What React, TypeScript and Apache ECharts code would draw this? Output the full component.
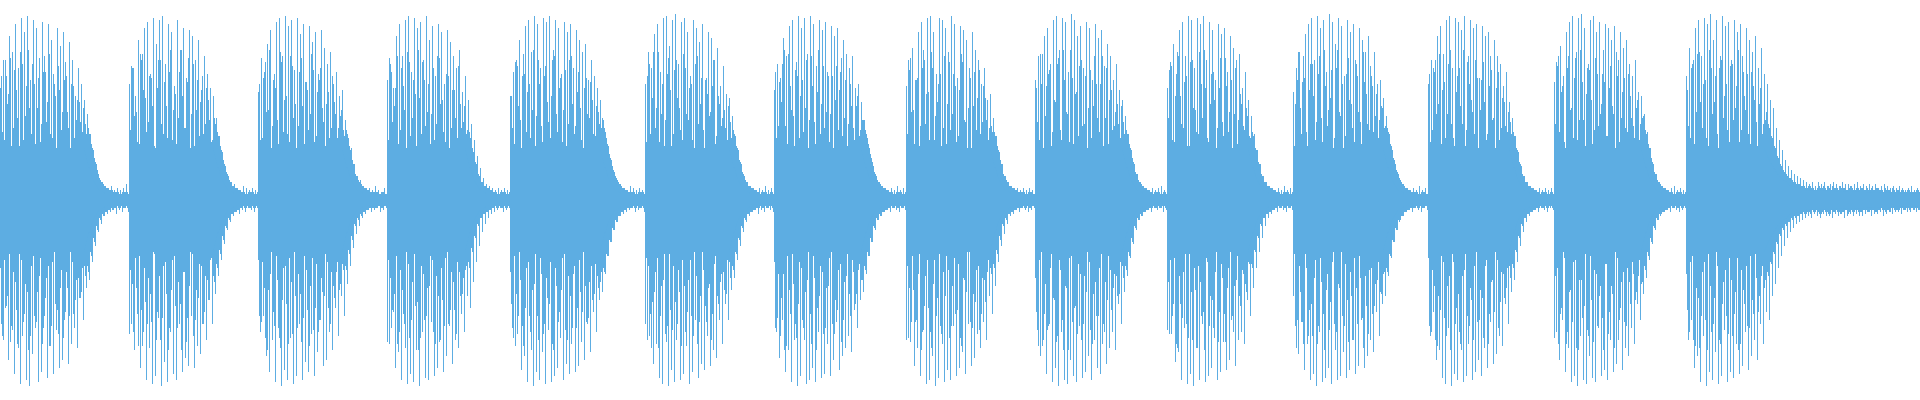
import React, { useEffect, useRef } from "react";
import * as echarts from "echarts";

// Peak amplitudes per slot (units: % of full scale), upper (T) and lower (B) halves, one pair per note burst
const b1T = [56,70,62,82,74,88,66,91,84,92,60,90,86,71,89,64,88,80,58,86,77,84,62,79,70,52,66,58,50,43,33,25,18,11,9,7,6,7,5,6,5,6,8];
const b1B = [68,54,80,63,87,72,92,61,90,93,77,64,91,86,58,89,73,87,65,84,80,56,82,72,64,74,49,60,44,40,31,23,16,12,8,7,6,5,7,5,6,4,6];
const b2T = [58,66,52,80,70,86,89,63,91,78,90,92,68,88,84,57,90,75,86,61,85,82,70,80,55,72,63,56,52,41,32,24,17,12,9,8,6,5,7,6,5,6,5];
const b2B = [62,75,57,84,66,90,74,92,88,59,93,81,91,66,87,90,62,86,79,83,58,84,73,77,62,70,50,62,47,38,30,22,15,11,8,6,7,5,6,4,5,6,4];
const b3T = [54,71,64,78,85,60,89,91,72,92,87,90,65,91,83,88,59,87,79,84,63,85,76,68,74,58,64,52,55,40,31,26,18,12,10,7,6,6,5,7,5,4,6];
const b3B = [66,58,78,86,70,91,64,93,85,90,69,92,88,62,90,81,86,67,88,76,60,83,80,66,75,54,68,48,58,42,33,24,17,13,9,7,5,6,5,4,6,5,4];
const b4T = [60,68,56,82,88,72,90,92,64,91,86,89,70,92,80,87,62,88,84,58,85,79,72,66,75,54,62,50,38,30,22,16,11,8,7,6,5,6,5,6,5];
const b4B = [72,55,84,76,90,62,92,87,91,75,93,66,89,90,61,88,84,70,86,78,63,82,70,74,57,66,48,54,41,31,23,16,12,9,7,6,5,4,6,5,4];
const b5T = [52,64,70,80,62,87,90,74,92,88,66,91,89,92,70,90,86,63,89,84,88,66,85,80,74,78,60,70,62,56,50,40,31,23,17,12,9,7,6,5,7,6,5,6,5];
const b5B = [64,73,58,85,78,91,66,93,86,90,76,92,65,91,88,84,69,90,82,87,64,86,83,71,80,62,76,56,66,50,46,37,28,21,15,11,8,7,6,5,4,6,5,4,6];
const b6T = [58,74,66,83,88,64,91,92,77,90,93,68,89,91,84,62,90,86,79,88,60,84,81,70,76,57,67,53,51,42,32,25,18,12,9,7,6,5,6,5,7,5,6];
const b6B = [70,57,82,72,89,92,67,93,85,91,62,90,87,73,92,86,60,89,82,85,68,83,75,79,60,72,52,60,45,39,30,23,16,11,8,6,5,7,5,6,4,5,6];
const b7T = [55,68,61,81,72,87,90,65,92,86,91,73,92,88,67,90,85,89,62,87,82,86,64,80,73,66,72,56,58,49,40,31,23,17,12,9,7,6,5,6,5,7,5,6];
const b7B = [66,79,60,86,75,91,70,93,88,64,92,90,84,91,66,89,87,72,88,80,61,85,78,74,68,76,55,64,50,46,37,28,21,15,10,8,6,5,6,4,5,6,4,5];
const b8T = [57,65,76,60,84,89,70,91,92,84,63,91,90,86,74,92,88,61,87,85,80,66,84,75,70,58,66,50,53,41,32,24,18,12,9,7,6,6,5,6,5,6,5];
const b8B = [69,61,83,74,88,65,92,90,78,93,89,67,91,85,90,63,88,84,76,87,62,83,79,67,74,61,70,48,57,43,31,23,17,12,8,7,5,6,4,5,6,5,4];
const b9T = [60,72,58,82,86,68,90,92,75,91,89,64,93,90,82,87,66,89,86,60,88,81,85,67,78,72,60,68,55,50,42,33,25,18,13,9,7,6,5,6,5,6,7,5];
const b9B = [65,78,70,87,62,91,84,93,66,90,92,80,88,91,63,89,86,78,90,70,84,87,62,82,74,66,75,52,62,46,38,29,22,15,10,8,6,5,6,4,5,4,6,5];
const b10T = [56,69,78,63,85,89,72,92,90,66,91,88,92,70,89,85,60,88,83,86,64,82,76,70,73,56,64,50,42,33,25,18,12,9,7,6,5,6,5,7,5,6];
const b10B = [67,58,81,76,90,64,92,87,93,74,90,62,91,88,84,69,90,86,71,85,80,58,83,70,66,72,50,58,44,34,26,19,13,9,7,5,6,4,5,6,4,5];
const b11T = [54,66,74,59,83,88,91,70,92,86,90,64,93,89,78,91,87,62,90,84,88,68,86,80,74,82,62,74,58,60,51,42,33,25,18,13,9,7,6,5,6,5,7,5,6];
const b11B = [63,77,61,85,72,90,87,93,66,91,89,84,92,62,90,88,76,89,85,70,87,83,60,84,78,70,76,56,68,52,48,38,29,21,15,10,8,6,5,6,4,5,6,4,5];
const b12T = [58,70,64,82,87,73,90,92,66,91,89,85,92,69,90,86,88,61,87,82,84,65,80,72,68,57,64,49,41,32,24,17,12,9,7,6,5,6,5,6,5,6];
const b12B = [68,56,80,75,89,92,64,93,87,90,72,91,88,63,90,86,80,88,74,84,61,82,77,68,73,52,62,46,40,31,23,16,11,8,6,5,6,4,5,6,4,5];
const b13T = [59,67,77,62,84,89,92,71,91,93,86,66,90,92,84,89,63,88,86,80,87,62,84,76,80,68,62,70,54,52,43,34,26,18,13,9,7,6,5,6,7,5,6,5];
const b13B = [66,80,60,86,74,91,88,93,68,90,92,78,89,91,64,88,85,90,70,86,82,60,85,74,78,64,72,52,60,47,39,30,22,15,10,7,6,5,6,4,5,6,5,4];
const b14T = [62,76,68,86,90,72,91,88,93,80,90,66,92,87,89,70,90,84,88,64,86,80,74,82,66,76,63,
  58,50,46,36,30,25,20,17,15,13,12,11,10,
  9,8,9,7,9,8,9,7,8,9,8,7,9,8,8,7,8,9,7,8,7,8,7,8,6,7,8,7,6,7,6,7,6,5,6,7,5,6];
const b14B = [70,60,84,78,91,68,93,86,90,76,92,88,65,91,86,89,72,87,83,66,85,78,70,80,62,72,56,
  60,48,42,34,28,23,19,16,14,12,11,10,9,
  8,9,7,8,9,7,8,8,9,7,8,7,9,8,7,8,7,8,8,7,6,8,7,7,6,8,7,6,7,6,6,7,5,6,6,5,6,5];

// Shorter oscillations (symmetric), middle column of each slot
const b1I = [62,30,48,71,36,55,27,68,42,75,33,58,46,29,64,39,73,31,52,67,35,60,44,26,57,40,49,34,38,36,28,21,15,10,8,6,5,5,4,4,3,4,4];
const b2I = [35,66,44,28,73,51,39,61,27,56,70,33,47,64,30,53,41,75,36,59,26,68,45,32,62,38,50,29,41,34,27,20,14,10,7,6,5,4,4,3,4,4,3];
const b3I = [58,31,69,45,26,63,40,74,34,52,29,67,48,37,71,28,55,43,65,32,60,46,27,54,36,49,31,42,35,35,27,20,13,10,8,6,5,4,4,4,3,4,3];
const b4I = [30,64,47,72,35,57,26,69,41,53,75,33,60,44,28,66,38,71,50,29,62,36,55,31,48,39,33,34,26,19,13,9,7,6,5,4,4,3,4,4,3];
const b5I = [52,28,67,40,73,34,58,45,27,70,37,62,49,31,75,43,56,29,65,38,72,33,54,46,26,61,41,50,32,44,36,36,28,21,15,11,8,6,5,4,4,4,3,4,4];
const b6I = [29,68,51,36,74,43,27,63,55,33,70,46,30,66,40,58,26,72,48,35,61,42,57,28,52,37,45,30,39,35,27,20,14,10,7,6,5,4,3,4,4,3,4];
const b7I = [64,37,49,75,28,57,42,69,31,60,46,26,72,39,54,33,67,44,29,62,50,35,71,41,27,58,36,47,32,40,35,28,21,14,10,8,6,5,4,4,3,4,4,3];
const b8I = [33,71,45,60,27,66,38,54,74,30,49,63,36,28,69,43,57,32,73,40,26,61,47,35,65,39,51,30,37,34,27,20,13,10,7,6,5,4,4,4,3,4,3];
const b9I = [56,30,73,42,63,27,50,68,35,75,44,29,61,53,32,70,38,26,65,47,58,34,72,41,28,55,37,48,31,39,35,28,21,14,10,8,6,5,4,3,4,4,3,4];
const b10I = [41,67,29,74,52,36,62,27,70,45,33,58,75,31,48,64,26,56,39,71,34,60,43,28,53,37,46,32,34,26,19,13,9,7,6,5,4,4,3,4,4,3];
const b11I = [27,60,46,72,34,55,68,30,63,41,75,37,51,26,66,44,58,32,71,48,29,62,39,74,53,35,57,42,31,47,36,36,28,21,15,11,8,6,5,4,4,4,3,4,3];
const b12I = [63,35,70,48,28,59,43,75,31,54,66,38,27,72,50,33,61,45,69,30,57,40,26,64,36,49,34,39,34,26,19,13,9,7,6,5,4,3,4,4,3,4];
const b13I = [38,72,54,29,66,45,31,74,40,59,27,68,50,35,63,43,75,32,56,47,26,70,41,61,34,52,37,46,30,41,35,28,21,14,10,8,6,5,4,4,3,4,4,3];
const b14I = [55,31,70,44,74,36,60,27,66,49,33,72,41,58,29,68,46,75,35,52,63,28,57,39,48,33,40,
  38,32,27,22,18,15,13,11,10,9,8,7,7,
  6,7,6,5,7,6,6,7,5,6,6,7,6,5,6,6,5,6,6,5,6,5,5,6,5,5,6,5,4,5,5,4,5,4,5,4,4,5];

// Second set of short oscillations, on the opposite side of the peak columns
const b1J = [34,70,53,27,65,41,74,30,57,46,68,28,61,38,72,49,33,63,26,55,44,69,36,58,31,50,39,46,33,33,26,19,13,9,7,6,5,4,4,3,4,4,3];
const b2J = [67,42,29,73,55,34,62,47,26,70,38,59,31,75,45,28,64,52,36,71,43,27,60,49,33,56,40,30,38,32,25,18,13,9,7,6,5,4,3,4,4,3,4];
const b3J = [30,61,44,75,37,56,28,69,50,33,72,41,26,64,47,59,35,73,29,54,66,39,48,31,62,43,36,45,32,33,25,18,12,9,7,6,5,4,4,4,3,4,3];
const b4J = [71,39,56,28,66,45,74,32,60,27,51,69,37,58,43,30,72,48,34,63,26,55,41,67,36,47,35,31,24,18,12,9,7,6,5,4,3,4,4,3,4];
const b5J = [36,69,47,26,63,54,31,75,42,58,29,67,39,52,72,34,61,45,27,70,48,37,64,30,56,43,59,33,47,38,41,34,27,20,14,10,8,6,5,4,4,3,4,4,3];
const b6J = [62,33,74,46,29,58,40,71,27,65,51,35,73,43,56,30,68,38,61,26,53,44,70,32,48,41,36,47,31,33,26,19,13,9,7,6,5,4,4,4,3,4,3];
const b7J = [31,59,68,37,73,45,27,62,52,34,70,40,57,28,75,48,36,64,43,26,67,55,32,60,38,47,30,52,35,40,33,26,19,13,9,7,6,5,4,3,4,4,3,4];
const b8J = [70,44,28,61,37,75,53,30,66,42,58,27,72,48,35,63,29,55,69,39,46,26,64,51,33,57,40,36,34,32,25,18,12,9,7,6,5,4,4,3,4,4,3];
const b9J = [39,73,26,57,65,34,49,71,30,60,43,75,28,54,67,37,62,46,31,72,41,58,27,66,50,35,44,38,47,33,33,26,19,13,9,7,6,5,4,4,4,3,4,3];
const b10J = [65,30,52,72,38,59,27,69,46,34,74,41,56,29,63,50,36,71,32,57,44,26,66,40,48,35,42,31,32,25,18,12,9,7,6,5,4,3,4,4,3,4];
const b11J = [48,74,33,61,27,68,52,39,72,29,57,45,65,31,75,42,26,63,50,36,70,44,28,59,38,67,34,53,40,46,37,34,27,20,14,10,8,6,5,4,4,3,4,4,3];
const b12J = [29,66,43,73,55,31,68,38,27,62,47,75,35,58,44,70,26,60,49,33,72,41,56,30,51,37,44,33,32,25,18,12,9,7,6,5,4,4,4,3,4,3];
const b13J = [69,34,57,26,72,46,61,30,75,40,53,65,28,71,37,48,59,32,67,43,74,29,54,36,63,41,31,50,38,42,33,26,19,13,9,7,6,5,4,3,4,4,3,4];
const b14J = [37,66,28,73,49,58,31,75,43,62,26,70,52,35,67,40,57,29,72,45,33,64,50,27,56,38,44,
  36,31,26,21,17,14,12,11,9,8,8,7,6,
  7,6,5,6,6,7,5,6,7,6,5,6,6,5,7,5,6,5,6,5,5,6,5,6,5,4,5,5,6,4,5,5,4,5,4,4,5,4];

// Dense core envelope [slot, amplitude]
const coreEnvelope: [number, number][] = [
  [0,26],[28,26],[29.5,17],[31,10],[33,5],[36,2.5],
  [43,2.5],[43,26],[71,26],[72.5,17],[74,10],[76,5],[79,2.5],
  [86,2.5],[86,26],[114,26],[115.5,17],[117,10],[119,5],[122,2.5],
  [129,2.5],[129,26],[155,26],[156.5,17],[158,10],[160,5],[163,2.5],
  [170,2.5],[170,26],[200,26],[201.5,17],[203,10],[205,5],[208,2.5],
  [215,2.5],[215,26],[243,26],[244.5,17],[246,10],[248,5],[251,2.5],
  [258,2.5],[258,26],[287,26],[288.5,17],[290,10],[292,5],[295,2.5],
  [302,2.5],[302,26],[330,26],[331.5,17],[333,10],[335,5],[338,2.5],
  [345,2.5],[345,26],[374,26],[375.5,17],[377,10],[379,5],[382,2.5],
  [389,2.5],[389,26],[416,26],[417.5,17],[419,10],[421,5],[424,2.5],
  [431,2.5],[431,26],[461,26],[462.5,17],[464,10],[466,5],[469,2.5],
  [476,2.5],[476,26],[503,26],[504.5,17],[506,10],[508,5],[511,2.5],
  [518,2.5],[518,26],[547,26],[548.5,17],[550,10],[552,5],[555,2.5],
  [562,2.5],[562,26],[588,26],[590,19],[593,12],[597,7],[602,5],[640,3],
];

const topPeaks = [b1T,b2T,b3T,b4T,b5T,b6T,b7T,b8T,b9T,b10T,b11T,b12T,b13T,b14T];
const bottomPeaks = [b1B,b2B,b3B,b4B,b5B,b6B,b7B,b8B,b9B,b10B,b11B,b12B,b13B,b14B];
const innerPeaks = [b1I,b2I,b3I,b4I,b5I,b6I,b7I,b8I,b9I,b10I,b11I,b12I,b13I,b14I];
const sidePeaks = [b1J,b2J,b3J,b4J,b5J,b6J,b7J,b8J,b9J,b10J,b11J,b12J,b13J,b14J];

const COLOR = "#5dade2";

export default function App() {
  const ref = useRef<HTMLDivElement>(null);
  useEffect(() => {
    if (!ref.current) return;
    const chart = echarts.init(ref.current, null, { renderer: "svg" });
    const tops = topPeaks.flat();
    const bottoms = bottomPeaks.flat();
    const inner = innerPeaks.flat();
    const side = sidePeaks.flat();
    const slots = tops.length;
    const cats = tops.map((_, i) => String(i));
    const neg = (a: number[]) => a.map((v) => -v);
    const bar = (name: string, stack: string, data: number[]) => ({
      type: "bar",
      name,
      stack,
      data,
      xAxisIndex: 0,
      barWidth: 1,
      barGap: "0%",
      itemStyle: { color: COLOR },
      silent: true,
    });
    chart.setOption({
      animation: false,
      grid: { left: 0, right: 0, top: 0, bottom: 0, containLabel: false },
      xAxis: [
        { type: "category", data: cats, show: false, boundaryGap: true },
        { type: "value", min: 0, max: slots, show: false },
      ],
      yAxis: { type: "value", min: -100, max: 100, show: false },
      series: [
        {
          type: "line",
          xAxisIndex: 1,
          data: coreEnvelope,
          symbol: "none",
          lineStyle: { width: 0 },
          areaStyle: { color: COLOR, opacity: 1 },
          silent: true,
        },
        {
          type: "line",
          xAxisIndex: 1,
          data: coreEnvelope.map(([x, a]) => [x, -a]),
          symbol: "none",
          lineStyle: { width: 0 },
          areaStyle: { color: COLOR, opacity: 1 },
          silent: true,
        },
        bar("upperPeak", "c0", tops),
        bar("upperSide", "c0", neg(side)),
        bar("innerUp", "c1", inner),
        bar("innerDown", "c1", neg(inner)),
        bar("lowerSide", "c2", side),
        bar("lowerPeak", "c2", neg(bottoms)),
      ],
    });
    return () => chart.dispose();
  }, []);
  return (
    <div
      ref={ref}
      style={{ position: "absolute", left: 0, top: 0, width: 1920, height: 400 }}
    />
  );
}
